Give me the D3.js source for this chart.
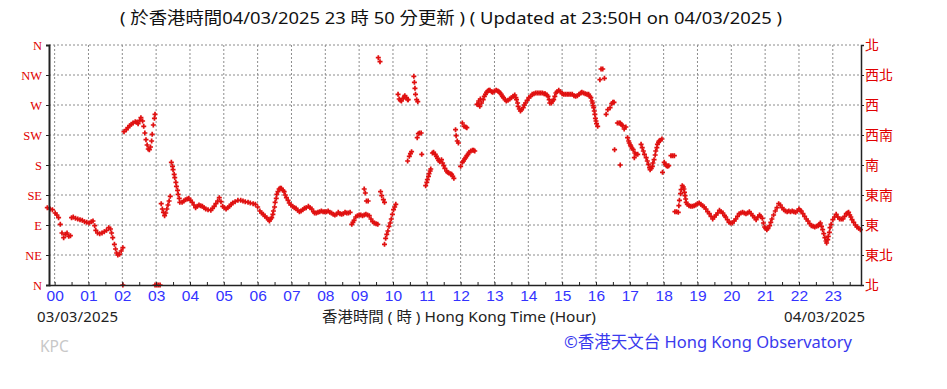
<!DOCTYPE html>
<html>
<head>
<meta charset="utf-8">
<script src="https://cdn.jsdelivr.net/npm/d3@7"></script>
<style>
  body { margin: 0; background: #fff; }
  svg { display: block; font-family: "Noto Sans", "Noto Sans CJK TC", sans-serif; }
  .grid line { stroke: #8c8c8c; stroke-width: 1; stroke-dasharray: 2,2; }
  .axis path, .axis line { stroke: #222; }
</style>
</head>
<body>
<script>
// wind direction readings, [minutes after 00:00 on 04/03, degrees]
const obs00to06 = [
  [-13,116],[-8,114],[-4,113],[1,108],[4,105],[7,101],[10,91],[13,78],[16,71],[19,76],[22,78],[25,73],[28,74],
  [30,101],[33,102],[37,100],[41,99],[45,98],[49,97],[53,95],[57,94],[61,93],[65,95],[68,96],[71,89],[73,82],
  [76,78],[80,77],[84,78],[88,80],[92,82],[96,86],[99,84],[101,78],[103,71],[106,61],[108,54],[110,48],[112,45],
  [115,46],[118,51],[121,56],[121,0],
  [123,230],[127,233],[130,236],[133,239],[136,241],[139,243],[143,245],[146,244],[148,242],[151,247],[153,251],
  [156,246],[158,238],[160,228],[162,218],[164,210],[166,204],[168,203],[170,207],[172,216],[173,226],[175,240],
  [177,250],[178,256],[178,0],[181,0],[184,0],[187,0],
  [189,122],[191,114],[193,109],[195,104],[197,108],[199,114],[201,120],[203,126],[205,133],
  [207,184],[209,178],[210,173],[212,166],[213,161],[215,154],[216,148],[218,142],[219,136],[221,130],[222,124],
  [226,124],[229,126],[232,128],[235,129],[238,130],[241,127],[244,124],[247,120],[250,116],[253,118],[256,120],
  [259,119],[262,118],[265,116],[268,114],[272,113],[277,112],[280,115],[283,118],[286,122],[289,126],[292,131],
  [295,125],[298,118],[301,116],[304,114],[307,116],[310,118],[313,121],[316,123],[320,125],[325,127],[330,127],
  [334,126],[338,125],[343,124],[347,123],[352,122],[356,121]
]
const obs06to12 = [
  [360,117],[364,111],[367,108],[370,106],[373,103],[376,101],[379,98],[381,96],[383,99],[385,101],[387,106],
  [388,111],[390,117],[391,124],[393,130],[394,136],[396,140],[398,144],[400,145],[402,145],[405,142],[407,140],
  [409,135],[411,131],[414,127],[416,123],[419,120],[422,118],[425,116],[428,115],[431,112],[434,110],[437,111],
  [440,113],[443,115],[446,116],[450,118],[453,116],[456,114],[459,110],[461,108],[464,108],[467,109],[470,110],
  [473,111],[476,110],[479,110],[482,110],[485,111],[488,109],[491,108],[494,106],[497,105],[500,106],[503,109],
  [506,107],[509,106],[512,107],[515,109],[518,108],[521,108],[524,109],
  [527,91],[529,94],[531,97],[534,102],[537,104],[540,105],[543,105],[546,104],[549,105],[552,106],[555,105],
  [558,104],[561,99],[564,95],[567,93],[570,92],[573,91],
  [549,144],[551,138],[553,126],[556,126],[574,341],[577,335],[578,140],[580,134],[583,128],[585,124],
  [585,61],[587,70],[589,76],[591,81],[593,88],[595,93],[597,99],[599,106],[601,113],[603,117],[605,121],
  [609,286],[611,279],[613,277],[615,276],[618,280],[620,282],[621,284],[624,281],[626,278],[627,278],
  [637,313],[638,304],[639,295],[640,286],[642,278],[644,275],
  [626,186],[629,193],[631,197],[633,200],[643,221],[645,227],[647,228],[650,228],[651,196],
  [658,149],[660,154],[661,158],[663,163],[664,167],[666,171],[667,174],
  [670,198],[672,199],[675,196],[677,193],[679,190],[681,187],[683,185],[686,188],[688,183],[690,179],[692,175],
  [695,171],[697,169],[699,168],[702,167],[704,166],[706,163],[708,160],
  [711,233],[712,224],[714,216],[716,213]
]
const obs12to18 = [
  [720,178],[723,184],[725,186],[727,189],[729,191],[731,194],[733,196],[735,199],[738,201],[741,202],[743,202],
  [745,201],[723,243],[726,238],[729,237],[731,236],
  [749,271],[751,271],[752,276],[754,268],[755,279],[757,273],[760,278],[762,283],[764,286],[766,289],[768,291],
  [770,292],[772,292],[775,290],[777,289],[780,291],[783,292],[786,291],[788,290],[790,288],[792,286],[794,283],
  [796,281],[799,278],[801,276],[804,277],[807,279],[810,281],[813,283],[816,285],[818,281],[819,278],[821,273],
  [822,268],[824,264],[826,261],[828,263],[831,266],[833,270],[835,273],[838,277],[841,281],[844,283],[847,286],
  [850,287],[853,288],[856,288],[859,288],[862,288],[865,288],[868,287],[870,287],[873,285],[875,283],[877,278],
  [878,273],[881,273],[883,276],[885,278],[887,283],[889,288],[891,290],[894,292],[897,290],[900,287],[903,286],
  [906,286],[909,286],[912,286],[915,286],[918,286],[921,284],[924,283],[927,284],[930,286],[933,288],[935,289],
  [938,288],[941,287],[944,286],[947,286],[949,283],[951,281],[953,276],[954,273],[955,269],[956,266],[957,261],
  [958,256],[959,250],[960,246],[961,242],[963,238],
  [967,308],[969,324],[972,324],[975,310],
  [978,256],[981,263],[985,266],[988,272],[990,274],[992,274],[993,203],
  [998,243],[1001,243],[1003,243],[1005,241],[1007,239],[1010,234],[1013,237],[1003,180],
  [1016,221],[1018,216],[1019,213],[1021,210],[1022,208],[1024,205],[1026,203],[1028,191],[1029,198],[1031,196],
  [1034,196],
  [1040,211],[1042,206],[1044,201],[1046,196],[1049,191],[1051,186],[1053,181],[1055,176],[1056,173],[1058,175],
  [1060,178],[1061,183],[1063,188],[1065,195],[1066,201],[1068,206],[1069,211],[1071,214],[1072,216],[1074,217],
  [1077,219],[1078,169],[1081,184],[1083,181],[1085,179],[1087,178],[1089,179],[1093,194],[1096,194],[1099,194]
]
const obs18to24 = [
  [1100,110],[1103,110],[1106,109],[1107,119],[1108,127],[1110,137],[1111,143],[1113,149],[1115,147],[1116,144],
  [1117,139],[1118,134],[1119,129],[1120,124],[1122,121],[1125,119],[1128,118],[1131,118],[1134,119],[1137,120],
  [1140,122],[1143,123],[1146,121],[1149,119],[1152,117],[1155,114],[1158,110],[1161,107],[1164,103],[1167,99],
  [1170,102],[1173,105],[1176,108],[1179,112],[1182,110],[1185,108],[1188,104],[1190,102],[1193,98],[1196,94],
  [1199,93],[1202,93],[1205,96],[1208,99],[1211,103],[1214,107],[1217,108],[1220,109],[1223,108],[1226,107],
  [1229,108],[1232,110],[1235,107],[1238,104],[1241,101],[1244,98],[1247,102],[1250,105],[1252,103],[1255,100],
  [1257,93],[1259,87],[1261,85],[1263,83],[1265,85],[1268,89],[1270,94],[1272,99],[1275,105],[1278,111],
  [1281,116],[1284,122],[1287,120],[1290,116],[1293,113],[1296,111],[1299,110],[1302,111],[1305,110],[1308,111],
  [1311,110],[1314,109],[1317,111],[1320,114],[1322,112],[1324,111],[1327,107],[1330,103],[1333,99],[1336,96],
  [1339,92],[1342,89],[1345,88],[1348,87],[1351,88],[1354,89],[1356,91],[1358,93],[1360,88],[1362,83],[1364,77],
  [1366,71],[1368,66],[1369,63],[1371,68],[1372,73],[1374,79],[1375,86],[1377,91],[1380,98],[1383,102],
  [1386,106],[1389,102],[1392,99],[1395,99],[1398,99],[1401,103],[1404,107],[1406,108],[1408,109],[1410,105],
  [1412,102],[1414,98],[1417,94],[1420,90],[1423,87],[1426,85],[1429,83]
]

const hourLabels = ['00','01','02','03','04','05','06','07','08','09','10','11',
  '12','13','14','15','16','17','18','19','20','21','22','23']
const dirDegrees = [0, 45, 90, 135, 180, 225, 270, 315, 360]
const dirLabelsEn = ['N','NE','E','SE','S','SW','W','NW','N']
const dirLabelsZh = ['北','東北','東','東南','南','西南','西','西北','北']

const titleText = '( 於香港時間04/03/2025 23 時 50 分更新 ) ( Updated at 23:50H on 04/03/2025 )'
const xTitle = '香港時間 ( 時 ) Hong Kong Time (Hour)'
const startDate = '03/03/2025'
const endDate = '04/03/2025'

const W = 947, H = 389
const margin = { top: 45, right: 86, bottom: 104, left: 49 }
const innerW = W - margin.left - margin.right
const innerH = H - margin.top - margin.bottom

const svg = d3.select('body').append('svg')
  .attr('width', W)
  .attr('height', H)

const x = d3.scaleLinear().domain([-10, 1430]).range([0, innerW])
const y = d3.scaleLinear().domain([0, 360]).range([innerH, 0])

const g = svg.append('g')
  .attr('transform', `translate(${margin.left}, ${margin.top})`)

// dotted grid
const hourMins = hourLabels.map((d, i) => i * 60)
g.append('g').attr('class', 'grid')
  .selectAll('line').data(hourMins).enter()
  .append('line')
    .attr('x1', d => x(d)).attr('x2', d => x(d))
    .attr('y1', 0).attr('y2', innerH)
g.append('g').attr('class', 'grid')
  .selectAll('line').data(dirDegrees.slice(1)).enter()
  .append('line')
    .attr('x1', 0).attr('x2', innerW)
    .attr('y1', d => y(d)).attr('y2', d => y(d))

// markers (small plus signs)
const allObs = obs00to06.concat(obs06to12, obs12to18, obs18to24)
g.append('g')
  .selectAll('path').data(allObs).enter()
  .append('path')
    .attr('transform', d => `translate(${x(d[0])}, ${y(d[1])})`)
    .attr('d', 'M-2.5,0H2.5M0,-2.5V2.5')
    .attr('stroke', '#e01010')
    .attr('stroke-width', 1.7)
    .attr('fill', 'none')

// axes
const leftAxis = d3.axisLeft(y).tickValues(dirDegrees).tickSize(3).tickPadding(4)
  .tickFormat((d, i) => dirLabelsEn[i])
const rightAxis = d3.axisRight(y).tickValues(dirDegrees).tickSize(3).tickPadding(1)
  .tickFormat((d, i) => dirLabelsZh[i])
const bottomAxis = d3.axisBottom(x).tickValues(hourMins).tickSize(0).tickPadding(5)
  .tickFormat((d, i) => hourLabels[i])
const halfHours = d3.range(0, 1440, 30)
const bottomTicks = d3.axisBottom(x).tickValues(halfHours).tickSize(-3).tickFormat('')

const la = g.append('g').attr('class', 'axis').call(leftAxis)
la.selectAll('text')
  .attr('fill', '#e00000')
  .style('font-family', '"Liberation Serif", "DejaVu Serif", serif')
  .style('font-size', '12.5px')
la.select('.domain').attr('stroke-width', 2)

const ra = g.append('g').attr('class', 'axis')
  .attr('transform', `translate(${innerW}, 0)`)
  .call(rightAxis)
ra.selectAll('text')
  .attr('fill', '#e00000')
  .style('font-family', '"Noto Sans CJK TC", sans-serif')
  .style('font-size', '14px')
ra.select('.domain').attr('stroke-width', 1.5)

const ba = g.append('g').attr('class', 'axis')
  .attr('transform', `translate(0, ${innerH})`)
  .call(bottomAxis)
ba.selectAll('text')
  .attr('fill', '#3333ff')
  .style('font-size', '15.5px')
ba.select('.domain').attr('stroke-width', 1.5)

g.append('g').attr('class', 'axis')
  .attr('transform', `translate(0, ${innerH})`)
  .call(bottomTicks)
  .select('.domain').remove()

// texts
svg.append('text')
  .attr('x', 120).attr('y', 24)
  .attr('textLength', 662)
  .attr('lengthAdjust', 'spacingAndGlyphs')
  .style('font-size', '16.5px')
  .attr('fill', '#111')
  .text(titleText)

svg.append('text')
  .attr('x', 37).attr('y', 322)
  .attr('textLength', 81)
  .style('font-size', '15px')
  .attr('fill', '#222')
  .text(startDate)

svg.append('text')
  .attr('x', 784).attr('y', 322)
  .attr('textLength', 81)
  .style('font-size', '15px')
  .attr('fill', '#222')
  .text(endDate)

svg.append('text')
  .attr('x', 322).attr('y', 322)
  .attr('textLength', 274)
  .attr('lengthAdjust', 'spacingAndGlyphs')
  .style('font-size', '14.5px')
  .attr('fill', '#222')
  .text(xTitle)

svg.append('text')
  .attr('x', 40).attr('y', 352)
  .style('font-size', '15.5px')
  .attr('fill', '#c8c8c8')
  .text('KPC')

svg.append('text')
  .attr('x', 564).attr('y', 348)
  .attr('textLength', 288)
  .attr('lengthAdjust', 'spacingAndGlyphs')
  .style('font-size', '16.5px')
  .attr('fill', '#3a3aee')
  .text('©香港天文台 Hong Kong Observatory')
</script>
</body>
</html>
